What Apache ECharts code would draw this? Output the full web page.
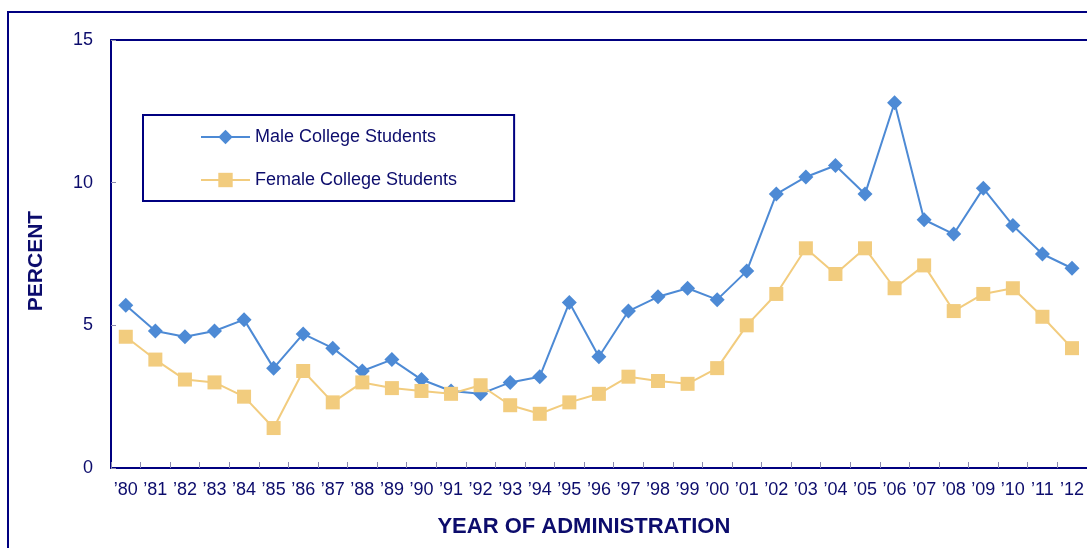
<!DOCTYPE html>
<html>
<head>
<meta charset="utf-8">
<script src="https://cdn.jsdelivr.net/npm/echarts@6/dist/echarts.min.js"></script>
<style>html,body{margin:0;padding:0;background:#fff;}#c{width:1087px;height:548px;}</style>
</head>
<body>
<div id="c"></div>
<script>
const categories = ["’80","’81","’82","’83","’84","’85","’86","’87","’88","’89","’90","’91","’92","’93","’94","’95","’96","’97","’98","’99","’00","’01","’02","’03","’04","’05","’06","’07","’08","’09","’10","’11","’12"];
const maleValues = [5.7,4.8,4.6,4.8,5.2,3.5,4.7,4.2,3.4,3.8,3.1,2.7,2.6,3.0,3.2,5.8,3.9,5.5,6.0,6.3,5.9,6.9,9.6,10.2,10.6,9.6,12.8,8.7,8.2,9.8,8.5,7.5,7.0];
const femaleValues = [4.6,3.8,3.1,3.0,2.5,1.4,3.4,2.3,3.0,2.8,2.7,2.6,2.9,2.2,1.9,2.3,2.6,3.2,3.05,2.95,3.5,5.0,6.1,7.7,6.8,7.7,6.3,7.1,5.5,6.1,6.3,5.3,4.2];
const yTicks = {min:0, max:15, interval:5};

const NAVY = '#000080';
const TXT = '#0c0c6c';
const FONT = '"Liberation Sans", Arial, sans-serif';
const chart = echarts.init(document.getElementById('c'), null, {renderer:'canvas'});
chart.setOption({
  animation:false,
  backgroundColor:'#fff',
  graphic:[{type:'rect', shape:{x:8,y:12,width:1200,height:700}, style:{fill:'none', stroke:NAVY, lineWidth:2}, silent:true}],
  grid:{left:111, top:40, right:0, bottom:80, show:false},
  legend:{
    orient:'vertical', left:143, top:115,
    padding:[12,57,11,57], itemGap:23, itemWidth:49, itemHeight:18,
    borderColor:NAVY, borderWidth:2, backgroundColor:'#fff',
    textStyle:{color:TXT, fontSize:18, fontFamily:FONT, lineHeight:20},
    data:['Male College Students','Female College Students']
  },
  xAxis:[{
    type:'category', data:categories, boundaryGap:true,
    axisLine:{lineStyle:{color:NAVY, width:2}},
    axisTick:{show:true, inside:true, length:6, lineStyle:{color:'#8a8ab0'}, interval:0},
    axisLabel:{color:TXT, fontSize:18, fontFamily:FONT, margin:13, interval:0},
    name:'YEAR OF ADMINISTRATION', nameLocation:'middle', nameGap:48,
    nameTextStyle:{color:TXT, fontSize:22, fontWeight:'bold', fontFamily:FONT, padding:[0,30,0,0]}
  },{
    type:'category', data:categories, position:'top',
    axisLine:{show:true, lineStyle:{color:NAVY, width:2}},
    axisTick:{show:false}, axisLabel:{show:false}
  }],
  yAxis:{
    type:'value', min:yTicks.min, max:yTicks.max, interval:yTicks.interval,
    axisLine:{show:true, lineStyle:{color:NAVY, width:2}},
    axisTick:{show:true, inside:true, length:5, lineStyle:{color:'#8a8ab0'}},
    splitLine:{show:false},
    axisLabel:{color:TXT, fontSize:18, fontFamily:FONT, margin:18},
    name:'PERCENT', nameLocation:'middle', nameRotate:90, nameGap:64,
    nameTextStyle:{color:TXT, fontSize:21, fontWeight:'bold', fontFamily:FONT, padding:[0,14,0,0]}
  },
  series:[{
    name:'Male College Students', type:'line', data:maleValues,
    symbol:'diamond', symbolSize:15, showAllSymbol:true,
    lineStyle:{color:'#4d8ad5', width:2}, itemStyle:{color:'#4d8ad5'}
  },{
    name:'Female College Students', type:'line', data:femaleValues,
    symbol:'rect', symbolSize:14, showAllSymbol:true,
    lineStyle:{color:'#f2cc7e', width:2}, itemStyle:{color:'#f2cc7e'}
  }]
});
</script>
</body>
</html>
